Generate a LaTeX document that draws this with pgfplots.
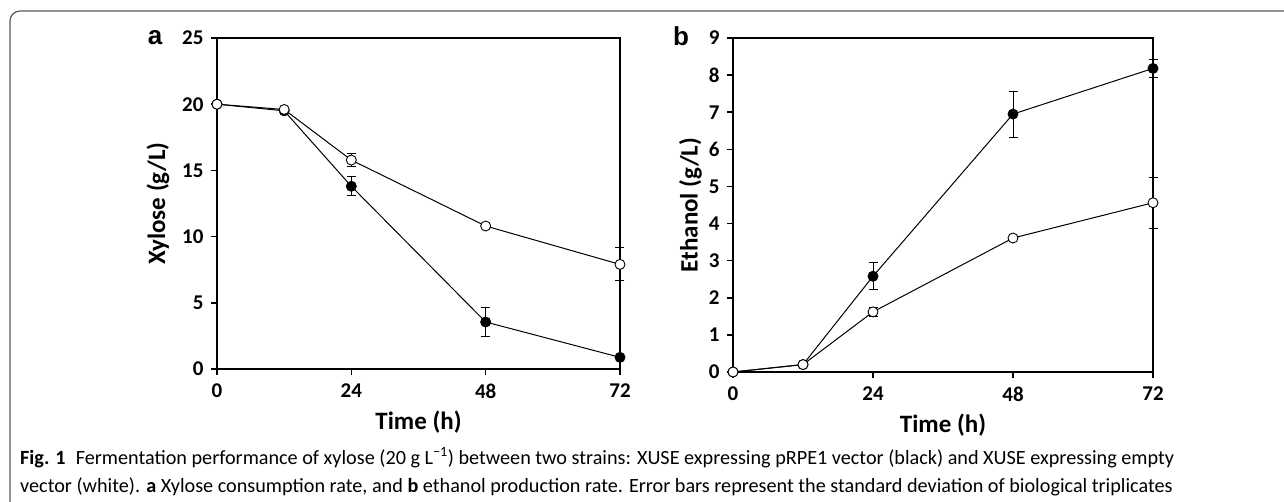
\documentclass[border=0pt]{standalone}
\usepackage{fontspec}
\setmainfont{Carlito}
\newfontfamily\arialfont{Liberation Sans}
\usepackage{pgfplots}
\pgfplotsset{compat=1.18}

\newcommand\tickfont{\bfseries\fontsize{21}{21}\selectfont}
\pgfplotsset{
  panel/.style={
    scale only axis,
    anchor=south west,
    clip=false,
    axis line style={line width=1.5pt},
    tick style={line width=1.5pt, black},
    tick align=outside,
    major tick length=6pt,
    xtick pos=left, ytick pos=left,
    xmin=0, xmax=72, xtick={0,24,48,72},
    /pgf/number format/assume math mode=true,
    xticklabel style={font=\tickfont, yshift=-5pt},
    yticklabel style={font=\tickfont, xshift=-4pt},
    xlabel style={font=\bfseries\fontsize{25}{25}\selectfont, yshift=-6pt},
    ylabel style={font=\bfseries\fontsize{25}{25}\selectfont},
  },
  blk/.style={black, line width=1pt, mark=*, mark size=5pt,
    mark options={fill=black, line width=0.9pt}},
  wht/.style={black, line width=1pt, mark=*, mark size=5pt,
    mark options={fill=white, line width=0.9pt}},
  errb/.style={draw=none, mark=none, forget plot,
    error bars/.cd, y dir=both, y explicit,
    error bar style={line width=1pt, black},
    error mark options={rotate=90, mark size=4.5pt, line width=1pt, black}},
}

\begin{document}
\begin{tikzpicture}[x=1pt, y=1pt]
\path[use as bounding box] (0,0) rectangle (1284,-502);
% figure frame
\draw[black!65, line width=1.2pt] (10,-502) -- (10,-21) arc[start angle=180, end angle=90, radius=10] -- (1284,-11);

% ---- panel a: xylose ----
\begin{axis}[panel,
    at={(217pt,-369pt)}, width=403pt, height=331pt,
    ymin=0, ymax=25, ytick={0,5,10,15,20,25},
    xlabel={Time (h)}, ylabel={Xylose (g/L)}, ylabel shift=6pt,
]
\addplot[errb] coordinates {(24,13.8) +- (0,0.72) (48,3.55) +- (0,1.1)};
\addplot[errb] coordinates {(24,15.78) +- (0,0.5) (72,7.9) +- (0,1.25)};
\addplot[blk] coordinates {(0,20) (12,19.5) (24,13.8) (48,3.55) (72,0.88)};
\addplot[wht] coordinates {(0,20) (12,19.6) (24,15.78) (48,10.8) (72,7.9)};
\end{axis}

% ---- panel b: ethanol ----
\begin{axis}[panel,
    at={(733pt,-372pt)}, width=420pt, height=334pt,
    ymin=0, ymax=9, ytick={0,1,...,9},
    xlabel={Time (h)}, ylabel={Ethanol (g/L)},
]
\addplot[errb] coordinates {(24,2.58) +- (0,0.36) (48,6.95) +- (0,0.62) (72,8.18) +- (0,0.25)};
\addplot[errb] coordinates {(24,1.62) +- (0,0.12) (72,4.56) +- (0,0.68)};
\addplot[blk] coordinates {(0,0) (12,0.2) (24,2.58) (48,6.95) (72,8.18)};
\addplot[wht] coordinates {(0,0) (12,0.2) (24,1.62) (48,3.61) (72,4.56)};
\end{axis}

% panel letters
\node[font=\arialfont\bfseries\fontsize{26}{26}\selectfont] at (155,-38) {a};
\node[font=\arialfont\bfseries\fontsize{26}{26}\selectfont] at (681,-36) {b};

% caption
\node[anchor=base west, inner sep=0pt, font=\fontsize{20.2}{20.2}\selectfont] at (20,-464)
  {\textbf{Fig. 1}\enspace Fermentation performance of xylose (20 g L\textsuperscript{\char"2212 1}) between two strains: XUSE expressing pRPE1 vector (black) and XUSE expressing empty};
\node[anchor=base west, inner sep=0pt, font=\fontsize{20.2}{20.2}\selectfont] at (20,-492)
  {vector (white). \textbf{a} Xylose consumption rate, and \textbf{b} ethanol production rate. Error bars represent the standard deviation of biological triplicates};
\end{tikzpicture}
\end{document}
